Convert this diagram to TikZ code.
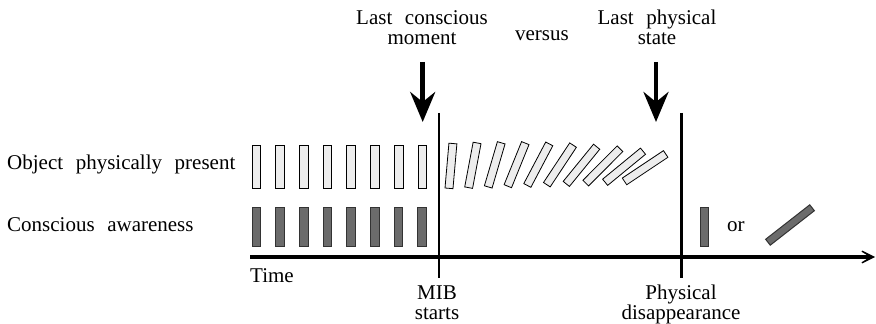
\documentclass[tikz,border=0pt]{standalone}
\usepackage{fontspec}
\setmainfont[WordSpace=2.4]{Liberation Serif}
\usetikzlibrary{arrows.meta}
\tikzset{
  lightbar/.style={draw=black,fill=black!7,line width=0.8pt},
  darkbar/.style={draw=black!80,fill=black!58,line width=1pt},
  marker/.style={line width=2.5pt},
  label text/.style={font=\fontsize{21}{20}\selectfont,inner sep=0pt,align=center},
  down arrow/.style={line width=4.5pt,-{Stealth[length=30pt,width=25pt,inset=10pt]}},
  time axis/.style={line width=4.5pt,-{Stealth[length=24pt,width=24pt,inset=19pt]}}
}
\begin{document}
\begin{tikzpicture}[x=1pt,y=1pt]
\useasboundingbox (0,0) rectangle (876,324);

\node[label text,anchor=base west] (present) at (7,154) {Object physically present};
\node[label text,anchor=base west] (aware) at (7,92) {Conscious awareness};

\foreach \i in {0,...,7}{
  \draw[lightbar] (252+23.7*\i,136) rectangle ++(8.7,43);
  \draw[darkbar] (252+23.7*\i,77) rectangle ++(8.7,39);
}
\foreach \i in {0,...,9}{
  \pgfmathsetmacro\px{445+19.7*\i}
  \pgfmathsetmacro\py{136+1.1*\i}
  \pgfmathsetmacro\ang{5+5.7*\i}
  \pgfmathsetmacro\len{45+0.5*\i}
  \draw[lightbar,rotate around={-\ang:(\px,\py)}] (\px,\py) rectangle ++(8,\len);
}

\draw[darkbar] (700,77) rectangle ++(8.5,39);
\node[label text,anchor=base west] (or) at (727,92) {or};
\draw[darkbar,rotate around={38:(790,99)}] (762,95.25) rectangle (818,102.75);

\coordinate (axis start) at (250,67);
\coordinate (axis end) at (875,67);
\draw[time axis] (axis start) -- (axis end);
\node[label text,anchor=base west] (time) at (250,41) {Time};

\coordinate (mib top) at (439,211);
\coordinate (mib bottom) at (439,46);
\draw[marker] (mib top) -- (mib bottom);
\node[label text,anchor=base] (mib) at (437,4) {MIB\\starts};

\coordinate (phys top) at (681.7,211);
\coordinate (phys bottom) at (681.7,46);
\draw[marker] (phys top) -- (phys bottom);
\node[label text,anchor=base] (disappear) at (681,4) {Physical\\disappearance};

\node[label text,anchor=base] (conscious) at (422,279) {Last conscious\\moment};
\node[label text,anchor=base] (versus) at (542,283) {versus};
\node[label text,anchor=base] (physical) at (657,279) {Last physical\\state};

\coordinate (conscious top) at (422.7,262);
\coordinate (conscious tip) at (422.7,202);
\draw[down arrow] (conscious top) -- (conscious tip);
\coordinate (physical top) at (656,262);
\coordinate (physical tip) at (656,202);
\draw[down arrow] (physical top) -- (physical tip);
\end{tikzpicture}
\end{document}
